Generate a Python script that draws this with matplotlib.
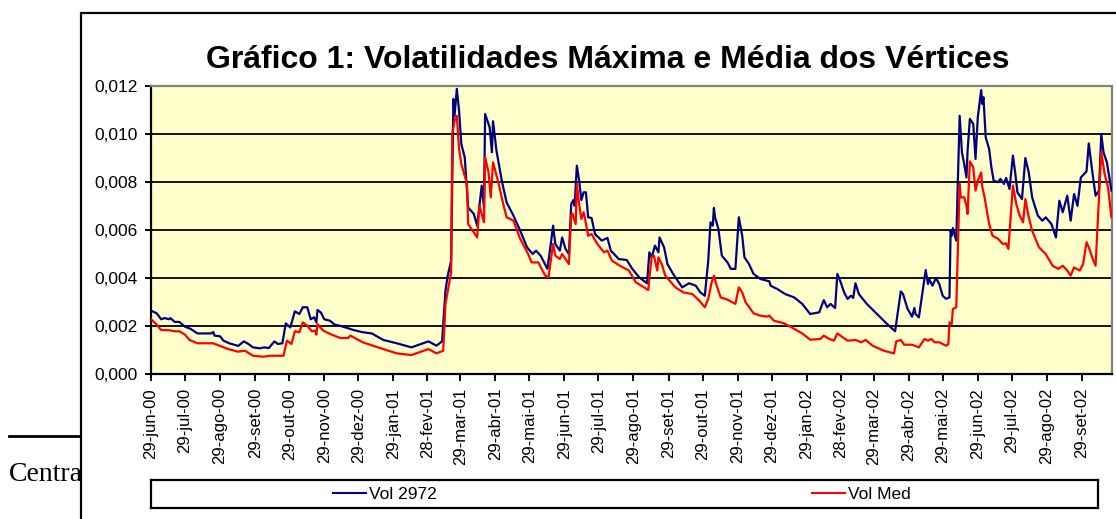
import numpy as np
import pandas as pd
import matplotlib
matplotlib.use("Agg")
import matplotlib.pyplot as plt
from matplotlib.patches import Rectangle
from matplotlib.lines import Line2D
from matplotlib.ticker import FuncFormatter

plt.rcParams['font.family'] = ['Liberation Sans', 'DejaVu Sans']

# ---------------- data ----------------
title = "Gráfico 1: Volatilidades Máxima e Média dos Vértices"
series_names = ["Vol 2972", "Vol Med"]
start_date = "2000-06-29"          # day 0
end_day = 848.5                    # last day shown on the axis

# Vol 2972 (days since 29-jun-2000, value)
days_vol2972 = [0, 5, 9, 12, 16, 17, 21, 25, 30, 35, 41, 53, 55, 56, 61, 64, 69, 77, 82, 86,
                90, 96, 100, 104, 109, 112, 116, 119, 123, 127, 131, 134, 138, 141, 144, 146, 147, 150, 153, 158,
                162, 167, 179, 187, 195, 205, 217, 230, 245, 252, 257, 260, 262, 265, 267, 268, 270, 272, 273, 274,
                277, 280, 285, 288, 292, 294, 295, 299, 301, 302, 305, 310, 314, 320, 326, 332, 337, 340, 344, 350,
                353, 355, 357, 361, 363, 366, 369, 371, 373, 374, 376, 378, 380, 382, 384, 386, 389, 392, 398, 403,
                406, 413, 420, 425, 431, 438, 440, 442, 445, 448, 449, 453, 456, 461, 469, 475, 481, 485, 489, 492,
                494, 496, 497, 498, 501, 504, 509, 512, 516, 519, 522, 524, 528, 532, 538, 546, 547, 553, 560, 568,
                575, 582, 590, 594, 597, 600, 604, 606, 609, 612, 615, 618, 620, 622, 625, 632, 641, 650, 657, 662,
                664, 668, 672, 674, 675, 678, 681, 684, 686, 687, 690, 693, 696, 699, 702, 705, 706, 707, 708, 711,
                712, 714, 716, 718, 720, 721, 723, 726, 728, 730, 733, 734, 735, 737, 740, 742, 744, 748, 750, 753,
                755, 758, 761, 763, 765, 769, 772, 775, 778, 783, 787, 790, 795, 799, 802, 805, 809, 812, 815, 818,
                821, 826, 828, 831, 834, 837, 839, 841, 844, 848]
vol2972 = [0.00264, 0.00253, 0.00228, 0.00233, 0.00228, 0.00233, 0.00217, 0.00217, 0.00197, 0.00188,
           0.00169, 0.00169, 0.00175, 0.00160, 0.00157, 0.00139, 0.00128, 0.00117, 0.00136, 0.00125,
           0.00111, 0.00107, 0.00111, 0.00108, 0.00136, 0.00125, 0.00128, 0.00211, 0.00194, 0.00261,
           0.00250, 0.00278, 0.00278, 0.00228, 0.00236, 0.00215, 0.00267, 0.00256, 0.00228, 0.00222,
           0.00206, 0.00201, 0.00183, 0.00174, 0.00169, 0.00142, 0.00128, 0.00111, 0.00136, 0.00118,
           0.00136, 0.00347, 0.00410, 0.00472, 0.01146, 0.01076, 0.01188, 0.01097, 0.01028, 0.00958,
           0.00903, 0.00694, 0.00667, 0.00618, 0.00785, 0.00694, 0.01083, 0.01028, 0.00924, 0.01053,
           0.00931, 0.00799, 0.00715, 0.00660, 0.00597, 0.00528, 0.00500, 0.00514, 0.00493, 0.00438,
           0.00542, 0.00618, 0.00542, 0.00514, 0.00569, 0.00521, 0.00500, 0.00708, 0.00725, 0.00701,
           0.00868, 0.00806, 0.00725, 0.00757, 0.00757, 0.00653, 0.00650, 0.00583, 0.00556, 0.00567,
           0.00514, 0.00479, 0.00475, 0.00438, 0.00403, 0.00378, 0.00507, 0.00486, 0.00535, 0.00507,
           0.00569, 0.00528, 0.00458, 0.00417, 0.00361, 0.00378, 0.00368, 0.00340, 0.00326, 0.00472,
           0.00632, 0.00618, 0.00692, 0.00653, 0.00604, 0.00493, 0.00465, 0.00438, 0.00438, 0.00653,
           0.00576, 0.00486, 0.00458, 0.00417, 0.00396, 0.00386, 0.00368, 0.00354, 0.00333, 0.00319,
           0.00292, 0.00250, 0.00257, 0.00308, 0.00278, 0.00292, 0.00275, 0.00417, 0.00382, 0.00340,
           0.00313, 0.00326, 0.00317, 0.00378, 0.00333, 0.00292, 0.00250, 0.00208, 0.00178, 0.00344,
           0.00333, 0.00271, 0.00239, 0.00275, 0.00250, 0.00236, 0.00333, 0.00433, 0.00375, 0.00396,
           0.00368, 0.00400, 0.00375, 0.00326, 0.00313, 0.00319, 0.00597, 0.00576, 0.00608, 0.00556,
           0.00736, 0.01076, 0.00924, 0.00875, 0.00819, 0.00931, 0.01063, 0.01042, 0.00896, 0.01069,
           0.01183, 0.01125, 0.01153, 0.00986, 0.00938, 0.00861, 0.00806, 0.00799, 0.00813, 0.00792,
           0.00817, 0.00771, 0.00910, 0.00840, 0.00757, 0.00729, 0.00900, 0.00840, 0.00736, 0.00660,
           0.00639, 0.00653, 0.00625, 0.00569, 0.00722, 0.00674, 0.00743, 0.00639, 0.00750, 0.00701,
           0.00819, 0.00844, 0.00961, 0.00847, 0.00743, 0.00764, 0.01000, 0.00924, 0.00882, 0.00764]

# Vol Med (days since 29-jun-2000, value)
days_volmed = [0, 5, 9, 15, 21, 25, 30, 34, 41, 55, 61, 68, 77, 83, 90, 99, 105, 117, 120, 124,
               127, 131, 134, 138, 142, 145, 146, 147, 152, 158, 167, 174, 176, 187, 205, 217, 230, 245, 252, 258,
               260, 265, 266, 268, 270, 272, 274, 279, 280, 288, 290, 294, 295, 298, 300, 302, 307, 311, 314, 320,
               326, 333, 336, 342, 348, 351, 355, 357, 361, 363, 369, 371, 372, 375, 376, 378, 380, 382, 383, 386,
               389, 394, 400, 403, 407, 414, 422, 428, 432, 439, 442, 444, 447, 448, 451, 454, 463, 470, 478, 484,
               489, 492, 495, 497, 499, 503, 509, 516, 519, 522, 525, 532, 538, 544, 546, 550, 559, 568, 575, 582,
               591, 594, 599, 603, 606, 615, 622, 627, 631, 637, 647, 656, 658, 662, 665, 672, 678, 683, 686, 689,
               692, 696, 702, 704, 705, 707, 708, 711, 714, 715, 718, 720, 721, 723, 726, 728, 730, 733, 734, 736,
               738, 740, 743, 748, 752, 755, 757, 761, 764, 767, 770, 772, 775, 778, 784, 790, 796, 801, 805, 809,
               812, 815, 820, 823, 826, 828, 831, 834, 839, 842, 845, 848]
volmed = [0.00228, 0.00206, 0.00183, 0.00183, 0.00178, 0.00178, 0.00164, 0.00142, 0.00128, 0.00128,
          0.00117, 0.00104, 0.00093, 0.00097, 0.00076, 0.00072, 0.00076, 0.00076, 0.00139, 0.00125,
          0.00178, 0.00174, 0.00215, 0.00201, 0.00178, 0.00181, 0.00164, 0.00208, 0.00181, 0.00167,
          0.00150, 0.00150, 0.00160, 0.00132, 0.00104, 0.00086, 0.00079, 0.00104, 0.00086, 0.00097,
          0.00292, 0.00424, 0.01000, 0.01056, 0.01076, 0.00938, 0.00875, 0.00792, 0.00625, 0.00569,
          0.00701, 0.00632, 0.00903, 0.00840, 0.00736, 0.00882, 0.00792, 0.00708, 0.00653, 0.00639,
          0.00563, 0.00500, 0.00465, 0.00465, 0.00410, 0.00403, 0.00542, 0.00493, 0.00479, 0.00500,
          0.00458, 0.00660, 0.00669, 0.00625, 0.00792, 0.00708, 0.00646, 0.00674, 0.00653, 0.00576,
          0.00583, 0.00542, 0.00507, 0.00514, 0.00472, 0.00451, 0.00431, 0.00382, 0.00371, 0.00350,
          0.00486, 0.00493, 0.00431, 0.00486, 0.00458, 0.00410, 0.00361, 0.00340, 0.00333, 0.00306,
          0.00278, 0.00313, 0.00382, 0.00410, 0.00375, 0.00319, 0.00310, 0.00292, 0.00361, 0.00340,
          0.00299, 0.00253, 0.00243, 0.00239, 0.00243, 0.00222, 0.00211, 0.00188, 0.00169, 0.00143,
          0.00146, 0.00160, 0.00146, 0.00139, 0.00169, 0.00139, 0.00142, 0.00132, 0.00142, 0.00118,
          0.00097, 0.00086, 0.00136, 0.00142, 0.00122, 0.00122, 0.00111, 0.00146, 0.00139, 0.00146,
          0.00132, 0.00132, 0.00118, 0.00125, 0.00215, 0.00208, 0.00271, 0.00278, 0.00792, 0.00736,
          0.00736, 0.00701, 0.00667, 0.00886, 0.00861, 0.00764, 0.00806, 0.00840, 0.00778, 0.00736,
          0.00681, 0.00625, 0.00576, 0.00563, 0.00542, 0.00544, 0.00521, 0.00785, 0.00708, 0.00660,
          0.00632, 0.00729, 0.00653, 0.00597, 0.00528, 0.00500, 0.00451, 0.00438, 0.00451, 0.00431,
          0.00410, 0.00444, 0.00431, 0.00458, 0.00549, 0.00528, 0.00486, 0.00451, 0.00924, 0.00833,
          0.00778, 0.00653]

tick_labels = ["29-jun-00", "29-jul-00", "29-ago-00", "29-set-00", "29-out-00", "29-nov-00",
               "29-dez-00", "29-jan-01", "28-fev-01", "29-mar-01", "29-abr-01", "29-mai-01",
               "29-jun-01", "29-jul-01", "29-ago-01", "29-set-01", "29-out-01", "29-nov-01",
               "29-dez-01", "29-jan-02", "28-fev-02", "29-mar-02", "29-abr-02", "29-mai-02",
               "29-jun-02", "29-jul-02", "29-ago-02", "29-set-02"]
y_ticks = [0.000, 0.002, 0.004, 0.006, 0.008, 0.010, 0.012]
# --------------------------------------

month_map = {"jan": 1, "fev": 2, "mar": 3, "abr": 4, "mai": 5, "jun": 6,
             "jul": 7, "ago": 8, "set": 9, "out": 10, "nov": 11, "dez": 12}

def parse_label(s):
    d, m, y = s.split("-")
    return pd.Timestamp(2000 + int(y), month_map[m], int(d))

t0 = pd.Timestamp(start_date)
x_blue = t0 + pd.to_timedelta(days_vol2972, unit="D")
x_red = t0 + pd.to_timedelta(days_volmed, unit="D")
tick_dates = [parse_label(s) for s in tick_labels]

W, H = 1116, 519
fig = plt.figure(figsize=(W / 100, H / 100), dpi=100)
fig.patch.set_facecolor("white")

def fx(px):
    return px / W

def fy(py):
    return 1 - py / H

# underlying document (partially hidden by chart)
fig.add_artist(Line2D([fx(9), fx(82)], [fy(436), fy(436)], color="black", lw=2.0,
                      transform=fig.transFigure, zorder=0.5))
fig.text(fx(9), fy(481), "Central", family=["Liberation Serif", "DejaVu Serif"],
         fontsize=20, color="black", ha="left", va="baseline", zorder=0.5)

# chart frame
frame = Rectangle((fx(81), fy(560)), fx(1200) - fx(81), fy(13) - fy(560),
                  transform=fig.transFigure, facecolor="white", edgecolor="black",
                  lw=1.6, zorder=1)
fig.add_artist(frame)

# title
fig.text(fx(608), fy(68), title, fontsize=23, fontweight="bold", ha="center",
         va="baseline", zorder=3)

# plot area
ax = fig.add_axes([fx(151), fy(374), fx(1112) - fx(151), fy(86) - fy(374)], zorder=2)
ax.set_facecolor("#FFFFCC")
ax.plot(x_blue, vol2972, color="#000080", lw=1.6, zorder=3)
ax.plot(x_red, volmed, color="#FF0000", lw=1.6, zorder=4)

ax.set_xlim(t0, t0 + pd.Timedelta(days=end_day))
ax.set_ylim(0, 0.012)
ax.set_yticks(y_ticks)
ax.yaxis.set_major_formatter(FuncFormatter(lambda v, p: f"{v:.3f}".replace(".", ",")))
ax.set_xticks(tick_dates)
ax.set_xticklabels(tick_labels, rotation=90, fontsize=12)
ax.tick_params(axis="y", labelsize=12.5, direction="out", length=4.5, width=1.4, pad=5)
ax.tick_params(axis="x", direction="out", length=5, width=1.4, pad=5)
ax.grid(axis="y", color="black", lw=1.3)
ax.set_axisbelow(True)
for s in ["left", "bottom"]:
    ax.spines[s].set_color("black")
    ax.spines[s].set_linewidth(1.6)
for s in ["top", "right"]:
    ax.spines[s].set_color("#808080")
    ax.spines[s].set_linewidth(1.6)

# legend box
lax = fig.add_axes([fx(151), fy(508), fx(1098) - fx(151), fy(480) - fy(508)], zorder=2)
lax.set_xticks([])
lax.set_yticks([])
lax.set_facecolor("white")
for s in lax.spines.values():
    s.set_color("black")
    s.set_linewidth(1.6)
h1 = Line2D([], [], color="#000080", lw=1.5)
h2 = Line2D([], [], color="#FF0000", lw=1.5)
leg1 = lax.legend([h1], [series_names[0]], loc="center", bbox_to_anchor=(0.247, 0.5),
                  frameon=False, fontsize=12.5, handlelength=1.9, handletextpad=0.2,
                  borderpad=0, borderaxespad=0)
lax.add_artist(leg1)
lax.legend([h2], [series_names[1]], loc="center", bbox_to_anchor=(0.75, 0.5),
           frameon=False, fontsize=12.5, handlelength=1.9, handletextpad=0.2,
           borderpad=0, borderaxespad=0)

fig.savefig("out.png", dpi=100)
